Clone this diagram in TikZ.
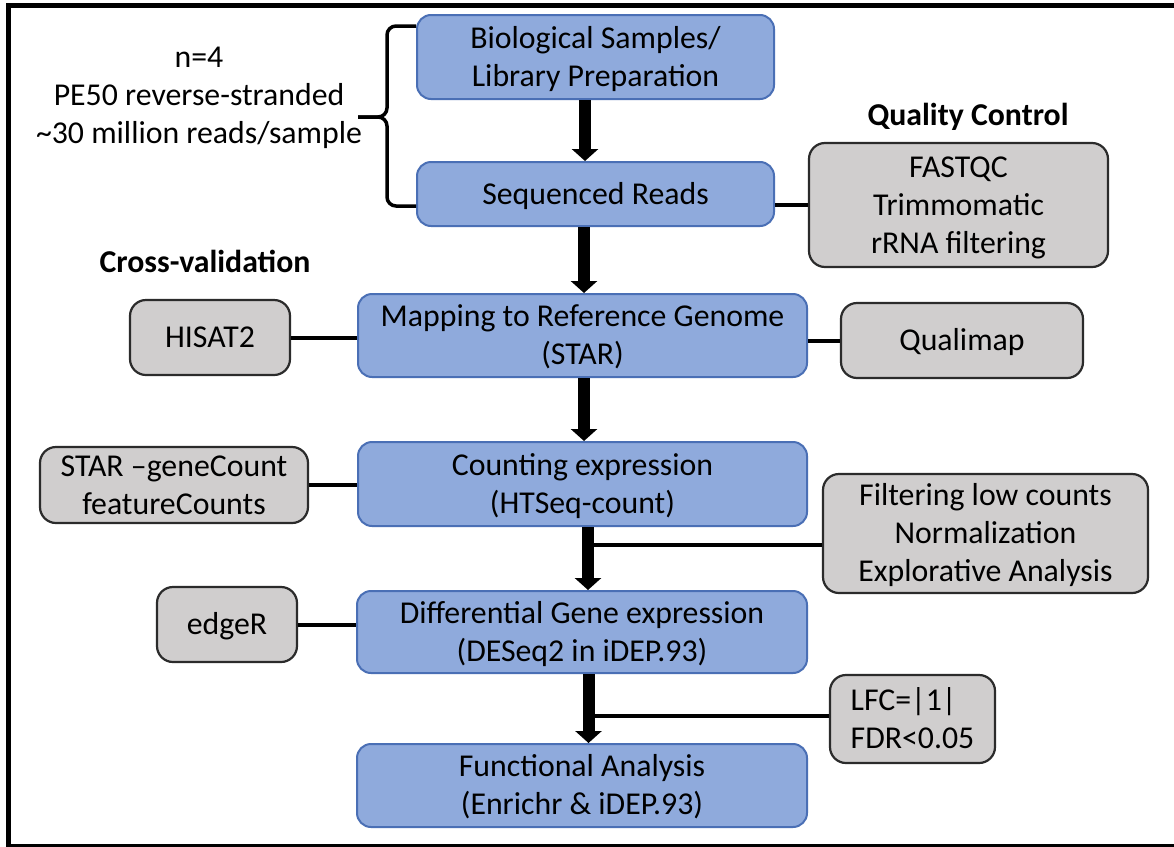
\documentclass[tikz,border=0pt]{standalone}
\usepackage{fontspec}
\setmainfont{Carlito}
\usetikzlibrary{arrows.meta,calc}
\definecolor{bluefill}{HTML}{8FAADC}
\definecolor{blueline}{HTML}{4A6FB5}
\definecolor{grayfill}{HTML}{D0CECE}
\definecolor{grayline}{HTML}{2B2B2B}
\newcommand\mystrut{\rule[-9pt]{0pt}{38pt}}
\begin{document}
\begin{tikzpicture}[x=1pt,y=-1pt,
  every node/.style={font=\fontsize{31.8}{38}\selectfont, inner sep=0pt},
  bluebox/.style={draw=blueline, fill=bluefill, line width=2pt, rounded corners=14pt, align=center},
  graybox/.style={draw=grayline, fill=grayfill, line width=2.2pt, rounded corners=16pt, align=center},
  link/.style={line width=4pt},
  flow/.style={line width=12pt, -{Triangle[width=26pt,length=12pt]}},
  lbl/.style={font=\fontsize{31.8}{38}\selectfont\bfseries, anchor=base},
  brace/.style={line width=3.5pt, rounded corners=9pt}
]
\useasboundingbox (0,0) rectangle (1174,846);
\fill[white] (0,0) rectangle (1174,846);
\draw[line width=5pt] (8.5,5.5) rectangle (1190,846.5);

% main flow boxes
\node[bluebox, minimum width=357pt, minimum height=84pt] (b1) at (595.5,57) {\mystrut Biological Samples/\\\mystrut Library Preparation};
\node[bluebox, minimum width=357pt, minimum height=64pt] (b2) at (595.5,194) {\mystrut Sequenced Reads};
\node[bluebox, minimum width=449pt, minimum height=83pt] (b3) at (582.5,335.5) {\mystrut Mapping to Reference Genome\\\mystrut (STAR)};
\node[bluebox, minimum width=449pt, minimum height=84pt] (b4) at (582.5,484) {\mystrut Counting expression\\\mystrut (HTSeq-count)};
\node[bluebox, minimum width=450pt, minimum height=82pt] (b5) at (582,632) {\mystrut Differential Gene expression\\\mystrut (DESeq2 in iDEP.93)};
\node[bluebox, minimum width=450pt, minimum height=83pt] (b6) at (582,785.5) {\mystrut Functional Analysis\\\mystrut (Enrichr \& iDEP.93)};

% side boxes
\node[graybox, minimum width=299pt, minimum height=124pt] (qc) at (958.5,205) {\mystrut FASTQC\\\mystrut Trimmomatic\\\mystrut rRNA filtering};
\node[graybox, minimum width=242pt, minimum height=75pt] (qmap) at (962,340.5) {\mystrut Qualimap};
\node[graybox, minimum width=160pt, minimum height=75pt] (hisat) at (210,337.5) {\mystrut HISAT2};
\node[graybox, minimum width=268pt, minimum height=76pt] (starc) at (174,485) {\mystrut STAR –geneCount\\\mystrut featureCounts};
\node[graybox, minimum width=325pt, minimum height=119pt] (filt) at (985.5,533.5) {\mystrut Filtering low counts\\\mystrut Normalization\\\mystrut Explorative Analysis};
\node[graybox, minimum width=140pt, minimum height=75pt] (edger) at (227,624.5) {\mystrut edgeR};
\node[graybox, align=left, minimum width=165pt, minimum height=88pt] (lfc) at (912.5,719) {\mystrut LFC=|1|\\\mystrut FDR<0.05};

% labels
\node[lbl] (lqc) at (968,125) {Quality Control};
\node[lbl] (lcv) at (205,272) {Cross-validation};
\node[align=center] (info) at (199,95) {\mystrut n=4\\\mystrut PE50 reverse-stranded\\\mystrut \textasciitilde30 million reads/sample};

% brace
\coordinate (bt) at (387,117);
\draw[brace] ($(b1.north west)+(0,12)$) -| (bt) -- ++(-29,0);
\draw[brace] ($(bt)+(-29,0)$) -- (bt) |- ($(b2.south west)+(0,-21)$);

% side links
\draw[link] (qc.west) -- (qc.west -| b2.east);
\draw[link] (hisat.east) -- (hisat.east -| b3.west);
\draw[link] (qmap.west) -- (qmap.west -| b3.east);
\draw[link] (starc.east) -- (starc.east -| b4.west);
\draw[link] (edger.east) -- (edger.east -| b5.west);

% flow arrows
\coordinate (s1) at ([xshift=-10.5pt]b1.south);
\coordinate (s2) at ([xshift=-11.5pt]b2.south);
\coordinate (s3) at ([xshift=1.5pt]b3.south);
\coordinate (s4) at ([xshift=5.5pt]b4.south);
\coordinate (s5) at ([xshift=6.5pt]b5.south);
\draw[flow] (s1) -- (s1 |- b2.north);
\draw[flow] (s2) -- (s2 |- b3.north);
\draw[flow] (s3) -- (s3 |- b4.north);
\draw[flow] (s4) -- (s4 |- b5.north);
\draw[flow] (s5) -- (s5 |- b6.north);

\coordinate (j1) at ($(filt.west)+(0,11.5)$);
\coordinate (j2) at ($(lfc.west)+(0,-3)$);
\draw[link] (j1) -- (j1 -| s4);
\draw[link] (j2) -- (j2 -| s5);
\end{tikzpicture}
\end{document}
